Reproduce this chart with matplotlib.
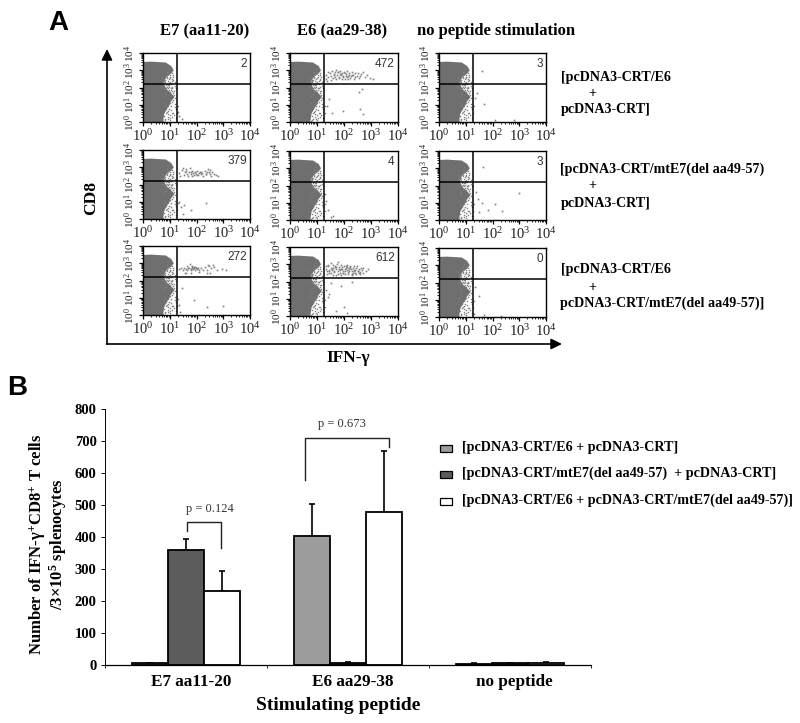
import numpy as np
import matplotlib
matplotlib.use("Agg")
from matplotlib import pyplot as plt
from matplotlib.patches import Rectangle

plt.rcParams["font.family"] = "Liberation Serif"
plt.rcParams["mathtext.fontset"] = "custom"
plt.rcParams["mathtext.rm"] = "Liberation Sans"
plt.rcParams["mathtext.bf"] = "Liberation Serif:bold"
plt.rcParams["mathtext.default"] = "regular"

# panel B values
peptides = ["E7 aa11-20", "E6 aa29-38", "no peptide"]
crt_e6 = [4, 402, 3]
crt_mte7 = [357, 6, 4]
crt_both = [230, 477, 4]
crt_e6_err = [1, 101, 1]
crt_mte7_err = [35, 2, 1]
crt_both_err = [62, 193, 3]
legend_labels = [
    "[pcDNA3-CRT/E6 + pcDNA3-CRT]",
    "[pcDNA3-CRT/mtE7(del aa49-57)  + pcDNA3-CRT]",
    "[pcDNA3-CRT/E6 + pcDNA3-CRT/mtE7(del aa49-57)]",
]
bar_colors = ["#9c9c9c", "#5c5c5c", "#ffffff"]

# panel A labels and counts
col_titles = ["E7 (aa11-20)", "E6 (aa29-38)", "no peptide stimulation"]
counts = [["2", "472", "3"], ["379", "4", "3"], ["272", "612", "0"]]
row_labels = [
    ["[pcDNA3-CRT/E6", "+", "pcDNA3-CRT]"],
    ["[pcDNA3-CRT/mtE7(del aa49-57)", "+", "pcDNA3-CRT]"],
    ["[pcDNA3-CRT/E6", "+", "pcDNA3-CRT/mtE7(del aa49-57)]"],
]

# outline of the solid gray population, in log10 units
blob_x = [0, 0.3, 0.6, 0.85, 1.05, 1.15, 1.05, 0.88, 0.8, 0.8, 0.88, 1.0, 1.18, 1.05, 0.95, 0.8, 0.75, 0]
blob_y = [3.48, 3.5, 3.47, 3.45, 3.25, 3.0, 2.8, 2.6, 2.4, 2.15, 1.9, 1.75, 1.45, 1.2, 0.9, 0.5, 0, 0]

# scattered events next to the solid population
fringe_x = [0.95, 1.05, 1.12, 1.02, 0.88, 0.8, 0.92, 1.1, 0.75, 0.85, 0.98, 1.08, 0.72, 0.8, 0.9,
            1.0, 0.84, 0.78, 1.15, 1.2, 1.08, 0.98, 0.95, 1.05, 0.9, 0.85, 0.8, 0.92, 1.0, 1.12,
            0.82, 0.76, 0.95, 1.18, 1.02, 0.7, 0.88, 0.98, 0.74, 1.1, 0.84, 0.94,
            0.78, 0.84, 0.9, 0.96, 1.02, 1.08, 1.14, 1.2, 0.74, 0.82, 0.88, 0.94, 1.0, 1.06, 1.12, 1.18,
            0.76, 0.86, 0.92, 0.98, 1.04, 1.1, 1.16, 0.8, 0.9, 1.0, 1.1, 0.88, 0.96, 1.04, 1.12, 1.22,
            1.0, 1.06, 1.14, 1.2, 1.24, 0.98, 1.08, 1.16, 0.86, 0.94, 1.02, 1.1, 0.84, 0.92, 1.0, 1.28, 1.3, 1.22]
fringe_y = [3.1, 2.9, 2.75, 2.6, 2.55, 2.4, 2.35, 2.5, 2.28, 2.15, 2.05, 1.95, 2.05, 1.9, 1.8,
            1.72, 1.65, 1.5, 1.55, 1.4, 1.15, 1.02, 0.9, 0.72, 0.6, 0.5, 0.32, 0.28, 0.4, 0.55,
            0.12, 0.08, 0.15, 0.85, 3.25, 2.62, 2.9, 2.25, 1.12, 1.8, 0.95, 2.78,
            2.5, 2.42, 2.62, 2.48, 2.7, 2.38, 2.62, 2.3, 2.38, 2.3, 2.22, 2.12, 2.32, 2.18, 2.42, 2.1,
            2.2, 2.0, 1.95, 2.12, 1.88, 2.05, 1.8, 2.45, 2.7, 2.55, 2.85, 2.05, 1.85, 2.0, 1.68, 1.95,
            1.1, 0.95, 1.25, 1.05, 0.75, 0.75, 0.5, 0.38, 0.78, 0.62, 0.22, 0.3, 0.18, 0.45, 0.1, 0.5, 0.95, 0.25]

# IFN-gamma positive events per panel, [x list, y list], log10 units
cloud_1_1 = [[1.3, 1.33, 1.45], [0.6, 0.35, 0.15]]
cloud_1_2 = [[1.35, 1.42, 1.5, 1.55, 1.62, 1.66, 1.7, 1.75, 1.78, 1.82, 1.85, 1.9, 1.93, 1.96, 2.0, 2.04,
              2.08, 2.12, 2.15, 2.2, 2.24, 2.3, 2.35, 2.42, 2.5, 2.55, 2.62, 2.7, 2.78, 2.85, 2.95, 3.08,
              1.48, 1.58, 1.68, 1.72, 1.8, 1.88, 1.98, 2.02, 2.1, 2.18, 2.28, 2.4, 2.48, 2.58, 1.4, 1.52,
              1.64, 1.76, 1.84, 1.94, 2.06, 2.16, 2.26, 2.38, 1.35, 1.38,
              1.45, 2.55, 1.98, 2.6, 1.55, 1.38, 2.68, 2.7],
             [2.75, 2.9, 2.65, 2.95, 2.8, 2.6, 3.0, 2.72, 2.88, 2.55, 2.98, 2.7, 2.85, 2.6, 2.92, 2.5,
              2.78, 2.95, 2.65, 2.82, 2.55, 2.9, 2.7, 2.62, 2.85, 2.55, 2.78, 2.88, 2.6, 2.7, 2.55, 2.48,
              2.82, 2.55, 2.9, 2.48, 2.62, 2.78, 2.68, 2.82, 2.58, 2.72, 2.75, 2.82, 2.68, 2.68, 2.62, 2.45,
              2.7, 2.92, 2.8, 2.52, 2.68, 2.48, 2.65, 2.5, 2.5, 2.4,
              1.35, 1.75, 0.65, 0.75, 0.55, 0.9, 1.9, 0.45]]
cloud_1_3 = [[1.6, 1.42, 1.35, 1.7, 2.8, 2.1], [2.95, 1.7, 1.4, 1.05, 0.12, 0.1]]
cloud_2_1 = [[1.35, 1.45, 1.52, 1.6, 1.65, 1.72, 1.76, 1.8, 1.85, 1.9, 1.94, 1.98, 2.02, 2.08, 2.12, 2.18,
              2.22, 2.3, 2.36, 2.42, 2.48, 2.52, 2.58, 2.65, 2.74, 2.82, 1.4, 1.56, 1.68, 1.78, 1.88, 1.96,
              2.05, 2.15, 2.25, 2.4, 2.5, 1.5, 1.62, 1.82, 2.0, 2.34, 2.55, 1.35, 1.42, 1.55, 1.5, 2.35, 1.8],
             [2.65, 2.85, 2.55, 2.9, 2.62, 2.72, 2.95, 2.6, 2.78, 2.55, 2.7, 2.62, 2.8, 2.65, 2.75, 2.6,
              2.68, 2.78, 2.62, 2.9, 2.7, 2.6, 2.75, 2.62, 2.55, 2.48, 2.5, 2.7, 2.5, 2.72, 2.68, 2.75,
              2.55, 2.72, 2.5, 2.72, 2.82, 2.95, 2.78, 2.5, 2.55, 2.6, 2.5, 1.0, 0.7, 0.8, 0.3, 0.95, 0.5]]
cloud_2_2 = [[1.3, 1.34, 1.42, 1.6, 1.5], [1.5, 1.1, 0.6, 0.25, 0.2]]
cloud_2_3 = [[1.65, 1.4, 1.85, 2.1, 2.35, 1.5, 3.0, 1.6, 1.45], [3.05, 1.65, 0.6, 0.95, 0.55, 0.45, 1.55, 1.0, 1.2]]
cloud_3_1 = [[1.35, 1.42, 1.5, 1.55, 1.6, 1.66, 1.7, 1.74, 1.78, 1.82, 1.85, 1.88, 1.92, 1.96, 2.0, 2.05,
              2.1, 2.18, 2.25, 2.32, 2.4, 2.48, 2.55, 2.66, 2.78, 2.95, 3.1, 1.58, 1.64, 1.72, 1.8, 1.84, 1.9,
              1.94, 1.98, 2.02, 2.38, 2.5, 2.6, 2.42, 1.62, 1.78, 2.08, 1.45, 1.35, 1.9, 2.4, 3.0, 1.38],
             [2.68, 2.72, 2.6, 2.75, 2.65, 2.85, 2.7, 2.95, 2.62, 2.78, 2.85, 2.66, 2.72, 2.8, 2.64, 2.7,
              2.62, 2.72, 2.58, 2.78, 2.62, 2.85, 2.7, 2.78, 2.6, 2.68, 2.62, 2.42, 2.62, 2.75, 2.68, 2.72, 2.78,
              2.62, 2.7, 2.75, 2.42, 2.45, 2.88, 2.9, 2.45, 2.42, 2.5, 1.55, 0.6, 0.85, 0.45, 0.55, 0.2]]
cloud_3_2 = [[1.32, 1.36, 1.4, 1.45, 1.5, 1.54, 1.58, 1.62, 1.66, 1.7, 1.74, 1.78, 1.8, 1.84, 1.88, 1.92,
              1.96, 2.0, 2.04, 2.08, 2.12, 2.16, 2.2, 2.24, 2.28, 2.32, 2.36, 2.4, 2.44, 2.48, 2.52, 2.56,
              2.6, 2.66, 2.72, 2.8, 2.9, 1.38, 1.46, 1.52, 1.6, 1.68, 1.76, 1.82, 1.9, 1.98, 2.06, 2.14, 2.22,
              2.3, 2.38, 2.46, 2.54, 2.62, 1.42, 1.56, 1.64, 1.72, 1.86, 1.94, 2.02, 2.1, 2.18, 2.26, 2.34,
              2.42, 2.5, 2.58, 2.7, 1.34, 1.5, 1.7, 1.88, 2.04, 2.2, 2.36, 1.44, 1.6, 1.78, 1.96, 2.12, 2.28,
              1.5, 1.9, 2.3, 1.35, 1.4, 1.7, 2.0, 1.45, 2.1],
             [2.75, 2.6, 2.9, 2.5, 2.8, 2.65, 2.95, 2.55, 2.85, 2.7, 3.0, 2.6, 2.82, 2.5, 2.95, 2.7,
              2.58, 2.88, 2.62, 2.78, 2.95, 2.55, 2.72, 2.86, 2.6, 2.8, 2.68, 2.52, 2.76, 2.88, 2.62, 2.72,
              2.56, 2.68, 2.78, 2.62, 2.7, 2.42, 2.68, 3.05, 2.4, 2.92, 2.45, 2.75, 2.38, 2.48, 2.92, 2.42, 2.9,
              2.45, 2.9, 2.42, 2.5, 2.8, 2.98, 2.72, 2.62, 2.82, 2.65, 2.82, 2.42, 2.66, 2.6, 2.7, 2.52,
              2.65, 2.6, 2.42, 2.48, 2.88, 2.52, 2.4, 2.72, 2.72, 2.78, 2.62, 2.58, 2.78, 3.12, 2.5, 2.84, 2.4,
              1.9, 1.75, 2.0, 1.5, 1.1, 0.3, 0.55, 1.3, 0.15]]
cloud_3_3 = [[1.35, 1.5, 1.32, 1.7, 2.3], [1.75, 1.2, 0.15, 0.1, 0.08]]
clouds = [[cloud_1_1, cloud_1_2, cloud_1_3], [cloud_2_1, cloud_2_2, cloud_2_3], [cloud_3_1, cloud_3_2, cloud_3_3]]

# pixel boxes of the dot plots
col_x = [(143, 250), (290, 398), (439, 546)]
row_y = [[(53, 122), (53, 122), (53, 122)],
         [(150, 219), (151, 220), (151, 220)],
         [(246, 315), (247, 316), (248, 317)]]

W, H = 800, 723
fig = plt.figure(figsize=(W / 100, H / 100), dpi=100, facecolor="white")


def px_axes(x0, y0, x1, y1):
    return fig.add_axes([x0 / W, 1 - y1 / H, (x1 - x0) / W, (y1 - y0) / H])


# overlay in pixel coordinates for labels and arrows
ov = fig.add_axes([0, 0, 1, 1], zorder=5)
ov.set_xlim(0, W)
ov.set_ylim(H, 0)
ov.axis("off")
ov.patch.set_alpha(0)

minor = [d + np.log10(m) for d in range(4) for m in range(2, 10)]
decade_labels = ["$10^{%d}$" % i for i in range(5)]

for r in range(3):
    for c in range(3):
        x0, x1 = col_x[c]
        y0, y1 = row_y[r][c]
        ax = px_axes(x0, y0, x1, y1)
        ax.set_xlim(0, 4)
        ax.set_ylim(0, 4)
        ax.fill(blob_x, blob_y, color="#6f6f6f", lw=0, zorder=1)
        ax.plot(fringe_x, fringe_y, ls="", marker="s", ms=1.0, mew=0, color="#808080", zorder=1)
        ax.plot(clouds[r][c][0], clouds[r][c][1], ls="", marker="s", ms=1.2, mew=0, color="#808080", zorder=1)
        ax.axvline(1.27, color="black", lw=1.1, zorder=2)
        ax.axhline(2.2, color="black", lw=1.1, zorder=2)
        ax.text(3.88, 3.38, counts[r][c], ha="right", va="center", fontsize=8.5,
                family="Liberation Sans", color="#333333")
        ax.set_xticks(range(5))
        ax.set_yticks(range(5))
        ax.set_xticks(minor, minor=True)
        ax.set_yticks(minor, minor=True)
        ax.set_xticklabels(decade_labels, fontsize=10.5, color="#222222")
        ax.set_yticklabels(decade_labels, fontsize=8.2, rotation=90, va="center", color="#222222")
        ax.tick_params(which="major", length=3, width=0.9, pad=1.5)
        ax.tick_params(which="minor", length=1.5, width=0.6)
        for s in ax.spines.values():
            s.set_linewidth(1.0)

# panel B
bx = px_axes(105, 409, 591, 664.5)
positions = np.arange(len(peptides))
series = [crt_e6, crt_mte7, crt_both]
errors = [crt_e6_err, crt_mte7_err, crt_both_err]
bar_w = 2 / 9
for i in range(3):
    xs = positions + (i - 1) * bar_w
    bx.bar(xs, series[i], bar_w, color=bar_colors[i], edgecolor="black", linewidth=1.3, zorder=2)
    bx.errorbar(xs, series[i], yerr=[np.zeros(3), errors[i]], fmt="none", ecolor="black",
                elinewidth=1.2, capsize=2, capthick=1.2, zorder=1)
bx.set_xlim(-0.5, 2.5)
bx.set_ylim(0, 800)
bx.set_yticks(range(0, 801, 100))
bx.set_yticklabels(range(0, 801, 100), fontsize=10.5, fontweight="bold")
bx.set_xticks(positions + 0.03)
bx.set_xticklabels(peptides, fontsize=12.3, fontweight="bold")
bx.set_xticks([-0.5, 0.5, 1.5, 2.5], minor=True)
bx.tick_params(axis="x", which="major", length=0, pad=7)
bx.tick_params(axis="x", which="minor", length=2, width=0.6)
bx.tick_params(axis="y", length=3, width=0.7, pad=3)
bx.spines["top"].set_visible(False)
bx.spines["right"].set_visible(False)
bx.spines["left"].set_linewidth(0.7)
bx.spines["bottom"].set_linewidth(0.9)

# brackets and p values
ov.plot([187, 187, 220.5, 220.5], [531, 522, 522, 548], color="#222222", lw=1)
ov.plot([304.5, 304.5, 389, 389], [480, 438, 438, 447], color="#222222", lw=1)
ov.text(210, 509, "p = 0.124", ha="center", va="center", fontsize=9, color="#333333")
ov.text(341.5, 424, "p = 0.673", ha="center", va="center", fontsize=9, color="#333333")

# legend
for i, y in enumerate([448, 474, 501]):
    ov.add_patch(Rectangle((439.5, y - 3.5), 12.5, 7, facecolor=bar_colors[i], edgecolor="black", lw=0.9))
    ov.text(462, y - 1, legend_labels[i], ha="left", va="center", fontsize=10.2, fontweight="bold")

# panel A labels
ov.text(205, 31, col_titles[0], ha="center", va="center", fontsize=12, fontweight="bold")
ov.text(342, 31, col_titles[1], ha="center", va="center", fontsize=12, fontweight="bold")
ov.text(417, 31, col_titles[2], ha="left", va="center", fontsize=12, fontweight="bold")
for lines, ys in zip(row_labels, [(77, 94, 110), (169, 186, 203), (269, 287, 303)]):
    ov.text(560.5, ys[0], lines[0], ha="left", va="center", fontsize=10.05, fontweight="bold")
    ov.text(592, ys[1], lines[1], ha="center", va="center", fontsize=10.05, fontweight="bold")
    ov.text(560.5, ys[2], lines[2], ha="left", va="center", fontsize=10.05, fontweight="bold")

ov.annotate("", xy=(107, 49), xytext=(107, 344),
            arrowprops=dict(arrowstyle="-|>,head_width=0.32,head_length=0.65", color="black", lw=1.2, shrinkA=0, shrinkB=0))
ov.annotate("", xy=(562, 344), xytext=(106.5, 344),
            arrowprops=dict(arrowstyle="-|>,head_width=0.32,head_length=0.65", color="black", lw=1.2, shrinkA=0, shrinkB=0))
ov.text(91, 198, "CD8", rotation=90, ha="center", va="center", fontsize=12.5, fontweight="bold")
ov.text(348, 358, "IFN-γ", ha="center", va="center", fontsize=12.5, fontweight="bold",
        family=["Liberation Serif", "DejaVu Serif"])

ov.text(58, 23, "A", ha="center", va="center", fontsize=20, fontweight="bold", family="Liberation Sans")
ov.text(17, 388, "B", ha="center", va="center", fontsize=20, fontweight="bold", family="Liberation Sans")

ov.text(38, 544, r"Number of IFN-γ$\mathbf{^{+}}$CD8$\mathbf{^{+}}$ T cells", rotation=90,
        ha="center", va="center", fontsize=12, fontweight="bold")
ov.text(58, 544, r"/3×10$\mathbf{^{5}}$ splenocytes", rotation=90,
        ha="center", va="center", fontsize=12, fontweight="bold")
ov.text(338, 706, "Stimulating peptide", ha="center", va="center", fontsize=14, fontweight="bold")

fig.savefig("out.png", dpi=100, facecolor="white")
